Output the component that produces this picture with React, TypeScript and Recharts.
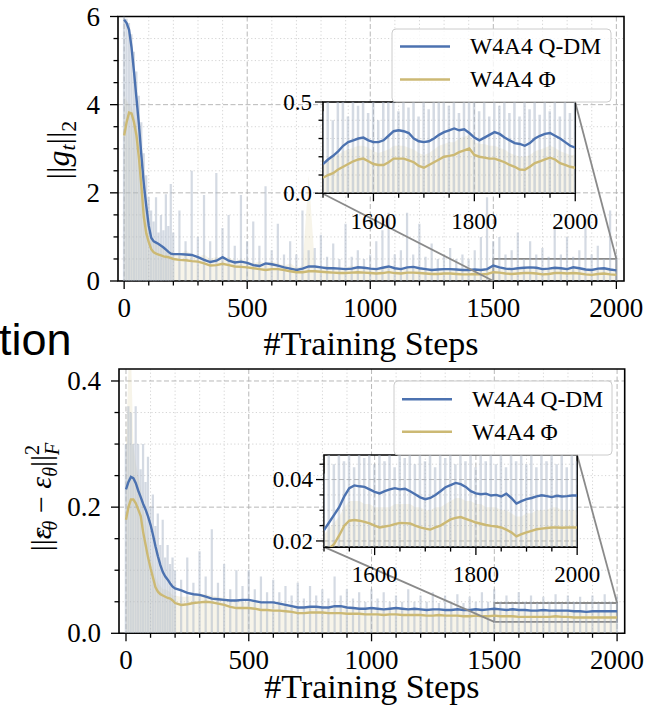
import React from 'react';
import { ComposedChart, Line, Area, Bar, XAxis, YAxis, CartesianGrid, ReferenceArea, ReferenceLine } from 'recharts';

const BLUE = '#4C72B0';
const YELLOW = '#CCB974';
const RAW = '#a9b6c8';
const SERIF = '"Liberation Serif", "Times New Roman", serif';
const SANS = '"Liberation Sans", Arial, sans-serif';

const seriesNames = ['W4A4 Q-DM', 'W4A4 \u03A6'];
const xLabelText = '#Training Steps';
const cutText = 'tion';

// ---------- categories ----------
const earlySteps = [0, 10, 20, 30, 40, 50, 60, 70, 80, 90, 100, 110, 120, 130, 140, 150, 160, 170, 180, 190];
const midSteps = [
  200, 225, 250, 275, 300, 325, 350, 375, 400, 425,
  450, 475, 500, 525, 550, 575, 600, 625, 650, 675,
  700, 725, 750, 775, 800, 825, 850, 875, 900, 925,
  950, 975, 1000, 1025, 1050, 1075, 1100, 1125, 1150, 1175,
  1200, 1225, 1250, 1275, 1300, 1325, 1350, 1375, 1400, 1425,
  1450, 1475, 1500, 1525, 1550, 1575, 1600, 1625, 1650, 1675,
  1700, 1725, 1750, 1775, 1800, 1825, 1850, 1875, 1900, 1925,
  1950, 1975, 2000,
];
const mainSteps = [...earlySteps, ...midSteps];
const insetSteps = [
  1500, 1510, 1520, 1530, 1540, 1550, 1560, 1570, 1580, 1590,
  1600, 1610, 1620, 1630, 1640, 1650, 1660, 1670, 1680, 1690,
  1700, 1710, 1720, 1730, 1740, 1750, 1760, 1770, 1780, 1790,
  1800, 1810, 1820, 1830, 1840, 1850, 1860, 1870, 1880, 1890,
  1900, 1910, 1920, 1930, 1940, 1950, 1960, 1970, 1980, 1990,
  2000,
];

// ---------- top panel: ||g_t||_2 ----------
const topQdm = [
  5.93, 5.85, 5.7, 5.3, 4.75, 4.15, 3.55, 2.85, 2.2, 1.7,
  1.25, 0.98, 0.9, 0.87, 0.84, 0.8, 0.76, 0.71, 0.66, 0.62,
  0.61, 0.61, 0.6, 0.59, 0.54, 0.48, 0.43, 0.46, 0.54, 0.46,
  0.42, 0.44, 0.41, 0.36, 0.34, 0.4, 0.38, 0.35, 0.31, 0.28,
  0.25, 0.28, 0.33, 0.33, 0.31, 0.29, 0.29, 0.28, 0.27, 0.28,
  0.31, 0.3, 0.28, 0.27, 0.3, 0.33, 0.29, 0.27, 0.31, 0.32,
  0.29, 0.27, 0.25, 0.26, 0.27, 0.27, 0.26, 0.25, 0.25, 0.26,
  0.25, 0.27, 0.35, 0.31, 0.28, 0.27, 0.29, 0.3, 0.31, 0.3,
  0.27, 0.28, 0.3, 0.29, 0.27, 0.31, 0.29, 0.26, 0.25, 0.28,
  0.29, 0.26, 0.24,
];
const topPhi = [
  3.3, 3.6, 3.82, 3.8, 3.6, 3.3, 2.8, 2.15, 1.45, 1.08,
  0.88, 0.72, 0.65, 0.62, 0.6, 0.58, 0.56, 0.55, 0.54, 0.52,
  0.5, 0.48, 0.47, 0.45, 0.44, 0.4, 0.35, 0.36, 0.39, 0.36,
  0.33, 0.32, 0.31, 0.29, 0.27, 0.25, 0.27, 0.27, 0.25, 0.22,
  0.2, 0.2, 0.22, 0.22, 0.21, 0.2, 0.19, 0.18, 0.18, 0.19,
  0.2, 0.19, 0.18, 0.17, 0.18, 0.2, 0.18, 0.17, 0.19, 0.19,
  0.18, 0.17, 0.16, 0.16, 0.17, 0.17, 0.16, 0.15, 0.15, 0.16,
  0.15, 0.16, 0.2, 0.19, 0.17, 0.16, 0.17, 0.18, 0.18, 0.17,
  0.15, 0.16, 0.18, 0.18, 0.17, 0.18, 0.17, 0.15, 0.14, 0.16,
  0.17, 0.15, 0.14,
];
const topRawQdm = [
  6.0, 5.95, 5.85, 5.6, 5.2, 4.75, 4.2, 3.6, 2.9, 2.4,
  1.9, 1.6, 1.35, 1.9, 1.1, 1.5, 1.15, 1.97, 1.25, 2.2,
  1.1, 1.6, 0.9, 2.5, 1.0, 1.95, 0.9, 2.45, 1.2, 1.5,
  0.8, 1.95, 0.9, 1.35, 0.8, 2.15, 0.7, 1.3, 0.6, 0.9,
  0.6, 1.6, 0.7, 0.75, 1.05, 0.55, 0.85, 0.5, 1.3, 0.55,
  0.7, 0.5, 0.6, 0.9, 1.15, 1.55, 0.6, 0.7, 1.55, 0.6,
  1.3, 0.55, 0.85, 0.5, 0.6, 0.75, 0.5, 0.6, 0.5, 0.7,
  1.0, 1.9, 0.9, 1.0, 0.6, 0.7, 1.1, 0.5, 0.9, 0.6,
  0.75, 0.55, 1.25, 0.6, 1.0, 0.55, 0.7, 1.4, 0.6, 0.8,
  0.5, 1.6, 0.6,
];
const topRawPhi = [
  4.2, 4.1, 4.0, 3.95, 3.8, 3.6, 3.2, 2.6, 2.0, 1.5,
  1.2, 1.0, 0.9, 0.85, 0.8, 0.75, 0.75, 0.7, 0.7, 0.65,
  0.65, 0.6, 0.7, 0.6, 0.55, 0.6, 0.5, 0.55, 0.5, 0.55,
  0.45, 0.5, 0.45, 0.4, 0.45, 0.4, 0.45, 0.4, 0.35, 0.4,
  0.3, 0.35, 2.4, 0.35, 0.3, 0.35, 0.3, 0.3, 0.3, 0.35,
  0.3, 0.3, 0.3, 0.28, 0.3, 0.32, 0.28, 0.3, 0.3, 0.28,
  0.3, 0.28, 0.26, 0.28, 0.27, 0.28, 0.26, 0.25, 0.26, 0.27,
  0.25, 0.28, 0.3, 0.28, 0.27, 0.26, 0.28, 0.28, 0.28, 0.27,
  0.25, 0.27, 0.28, 0.28, 0.27, 0.28, 0.27, 0.25, 0.24, 0.26,
  0.27, 0.25, 0.24,
];
const topInsetQdm = [
  0.16, 0.185, 0.205, 0.23, 0.26, 0.28, 0.29, 0.3, 0.305, 0.29,
  0.28, 0.28, 0.29, 0.315, 0.34, 0.345, 0.34, 0.33, 0.3, 0.285,
  0.28, 0.285, 0.3, 0.32, 0.335, 0.345, 0.355, 0.345, 0.35, 0.33,
  0.305, 0.29, 0.305, 0.32, 0.335, 0.325, 0.305, 0.29, 0.275, 0.27,
  0.26, 0.275, 0.3, 0.315, 0.325, 0.33, 0.315, 0.3, 0.28, 0.26,
  0.25,
];
const topInsetPhi = [
  0.085, 0.1, 0.11, 0.13, 0.145, 0.16, 0.175, 0.185, 0.19, 0.175,
  0.16, 0.155, 0.155, 0.17, 0.19, 0.19, 0.19, 0.18, 0.17, 0.15,
  0.14, 0.155, 0.17, 0.185, 0.2, 0.205, 0.21, 0.225, 0.235, 0.245,
  0.21, 0.2, 0.195, 0.19, 0.19, 0.18, 0.17, 0.155, 0.145, 0.13,
  0.128, 0.145, 0.165, 0.175, 0.185, 0.195, 0.185, 0.165, 0.155, 0.145,
  0.14,
];
const topInsetRawQdm = [
  0.45, 0.62, 0.4, 0.55, 0.7, 0.42, 0.6, 0.48, 0.75, 0.44,
  0.58, 0.4, 0.66, 0.5, 0.8, 0.45, 0.6, 0.47, 0.72, 0.42,
  0.55, 0.46, 0.68, 0.5, 0.85, 0.48, 0.62, 0.44, 0.7, 0.5,
  0.58, 0.45, 0.66, 0.42, 0.6, 0.48, 0.74, 0.44, 0.55, 0.42,
  0.64, 0.46, 0.7, 0.43, 0.58, 0.45, 0.8, 0.42, 0.6, 0.44,
  0.52,
];
const topInsetRawPhi = [
  0.16, 0.18, 0.2, 0.21, 0.23, 0.24, 0.25, 0.26, 0.26, 0.25,
  0.23, 0.22, 0.23, 0.24, 0.26, 0.26, 0.26, 0.25, 0.24, 0.22,
  0.21, 0.22, 0.24, 0.26, 0.27, 0.28, 0.28, 0.3, 0.31, 0.32,
  0.28, 0.27, 0.27, 0.26, 0.26, 0.25, 0.24, 0.22, 0.21, 0.2,
  0.2, 0.21, 0.23, 0.24, 0.25, 0.26, 0.25, 0.23, 0.22, 0.21,
  0.21,
];

// ---------- bottom panel: ||eps_hat - eps||_F^2 ----------
const botQdm = [
  0.228, 0.24, 0.248, 0.246, 0.238, 0.226, 0.216, 0.205, 0.196, 0.185,
  0.172, 0.156, 0.138, 0.122, 0.108, 0.097, 0.09, 0.085, 0.079, 0.074,
  0.071, 0.068, 0.064, 0.062, 0.061, 0.058, 0.055, 0.054, 0.053, 0.052,
  0.052, 0.053, 0.053, 0.051, 0.049, 0.049, 0.049, 0.047, 0.045, 0.043,
  0.041, 0.041, 0.042, 0.042, 0.041, 0.041, 0.043, 0.043, 0.041, 0.04,
  0.039, 0.039, 0.04, 0.039, 0.038, 0.039, 0.04, 0.039, 0.038, 0.039,
  0.038, 0.037, 0.038, 0.038, 0.037, 0.037, 0.038, 0.037, 0.037, 0.038,
  0.037, 0.038, 0.039, 0.038, 0.037, 0.038, 0.037, 0.037, 0.036, 0.036,
  0.037, 0.036, 0.036, 0.036, 0.036, 0.035, 0.035, 0.034, 0.035, 0.035,
  0.035, 0.035, 0.035,
];
const botPhi = [
  0.18, 0.2, 0.212, 0.212, 0.206, 0.196, 0.186, 0.16, 0.14, 0.12,
  0.103, 0.088, 0.073, 0.066, 0.062, 0.06, 0.058, 0.056, 0.055, 0.052,
  0.048, 0.045, 0.046, 0.048, 0.049, 0.05, 0.049, 0.047, 0.045, 0.042,
  0.04, 0.04, 0.04, 0.039, 0.037, 0.037, 0.036, 0.036, 0.035, 0.034,
  0.032, 0.032, 0.033, 0.033, 0.033, 0.032, 0.032, 0.032, 0.031, 0.031,
  0.031, 0.03, 0.03, 0.03, 0.029, 0.03, 0.03, 0.029, 0.029, 0.029,
  0.029, 0.028, 0.028, 0.029, 0.028, 0.028, 0.028, 0.027, 0.027, 0.028,
  0.027, 0.027, 0.028, 0.027, 0.027, 0.027, 0.026, 0.026, 0.026, 0.026,
  0.026, 0.026, 0.027, 0.026, 0.026, 0.025, 0.025, 0.025, 0.025, 0.025,
  0.025, 0.025, 0.025,
];
const botRawQdm = [
  0.3, 0.36, 0.35, 0.3, 0.36, 0.3, 0.26, 0.3, 0.24, 0.28,
  0.2, 0.22, 0.17, 0.19, 0.14, 0.18, 0.12, 0.14, 0.11, 0.12,
  0.1, 0.085, 0.12, 0.08, 0.13, 0.09, 0.165, 0.08, 0.11, 0.07,
  0.1, 0.075, 0.1, 0.07, 0.09, 0.065, 0.085, 0.065, 0.075, 0.06,
  0.08, 0.055, 0.075, 0.06, 0.07, 0.055, 0.09, 0.06, 0.07, 0.055,
  0.065, 0.05, 0.07, 0.055, 0.065, 0.05, 0.06, 0.05, 0.07, 0.05,
  0.06, 0.05, 0.065, 0.048, 0.06, 0.05, 0.062, 0.048, 0.058, 0.05,
  0.065, 0.05, 0.07, 0.05, 0.06, 0.048, 0.065, 0.05, 0.06, 0.048,
  0.058, 0.05, 0.062, 0.048, 0.06, 0.05, 0.058, 0.047, 0.06, 0.048,
  0.062, 0.05, 0.058,
];
const botRawPhi = [
  0.3, 0.42, 0.45, 0.3, 0.27, 0.25, 0.23, 0.2, 0.18, 0.16,
  0.13, 0.11, 0.09, 0.08, 0.075, 0.07, 0.07, 0.068, 0.065, 0.06,
  0.06, 0.058, 0.058, 0.06, 0.062, 0.062, 0.06, 0.058, 0.056, 0.053,
  0.05, 0.05, 0.05, 0.049, 0.047, 0.047, 0.046, 0.046, 0.045, 0.044,
  0.042, 0.042, 0.043, 0.043, 0.043, 0.042, 0.042, 0.042, 0.041, 0.041,
  0.041, 0.04, 0.04, 0.04, 0.039, 0.04, 0.04, 0.039, 0.039, 0.039,
  0.039, 0.038, 0.038, 0.039, 0.038, 0.038, 0.038, 0.037, 0.037, 0.038,
  0.037, 0.037, 0.038, 0.037, 0.037, 0.037, 0.036, 0.036, 0.036, 0.036,
  0.036, 0.036, 0.037, 0.036, 0.036, 0.035, 0.035, 0.035, 0.035, 0.035,
  0.035, 0.035, 0.035,
];
const botInsetQdm = [
  0.0235, 0.026, 0.0285, 0.031, 0.0345, 0.0372, 0.0381, 0.0378, 0.0376, 0.0368,
  0.036, 0.0355, 0.0362, 0.0368, 0.0372, 0.0368, 0.037, 0.0362, 0.0352, 0.0342,
  0.0336, 0.034, 0.035, 0.0362, 0.0375, 0.0382, 0.0389, 0.0385, 0.0376, 0.0362,
  0.0355, 0.0352, 0.0354, 0.0348, 0.035, 0.0345, 0.0354, 0.034, 0.0322, 0.033,
  0.0336, 0.034, 0.0345, 0.0349, 0.0346, 0.0343, 0.0347, 0.0345, 0.0346, 0.0348,
  0.0348,
];
const botInsetPhi = [
  0.0165, 0.0175, 0.019, 0.0218, 0.025, 0.0266, 0.0268, 0.0266, 0.0262, 0.0257,
  0.025, 0.0244, 0.0247, 0.025, 0.0255, 0.0259, 0.0258, 0.0257, 0.025, 0.0244,
  0.024, 0.0237, 0.0244, 0.025, 0.026, 0.027, 0.0275, 0.0278, 0.0272, 0.0266,
  0.026, 0.0256, 0.0252, 0.0249, 0.0247, 0.0244, 0.0237, 0.0228, 0.0215, 0.0222,
  0.0228, 0.0233, 0.0238, 0.024, 0.0242, 0.0244, 0.0244, 0.0243, 0.0244, 0.0244,
  0.0244,
];
const botInsetRawQdm = [
  0.042, 0.05, 0.045, 0.055, 0.046, 0.052, 0.044, 0.058, 0.047, 0.05,
  0.045, 0.056, 0.046, 0.052, 0.044, 0.055, 0.047, 0.05, 0.045, 0.054,
  0.046, 0.051, 0.044, 0.057, 0.047, 0.052, 0.045, 0.055, 0.046, 0.05,
  0.044, 0.053, 0.046, 0.051, 0.045, 0.056, 0.044, 0.05, 0.046, 0.054,
  0.045, 0.052, 0.044, 0.055, 0.046, 0.05, 0.045, 0.053, 0.044, 0.051,
  0.046,
];
const botInsetRawPhi = [
  0.022, 0.024, 0.026, 0.028, 0.031, 0.033, 0.033, 0.033, 0.032, 0.032,
  0.031, 0.031, 0.031, 0.031, 0.032, 0.032, 0.032, 0.032, 0.031, 0.031,
  0.03, 0.03, 0.031, 0.031, 0.032, 0.033, 0.034, 0.034, 0.033, 0.033,
  0.032, 0.032, 0.031, 0.031, 0.031, 0.03, 0.03, 0.029, 0.028, 0.028,
  0.029, 0.029, 0.03, 0.03, 0.03, 0.031, 0.031, 0.03, 0.03, 0.03,
  0.03,
];

// ---------- ticks ----------
const mainXMajor = [0, 500, 1000, 1500, 2000];
const mainXLabels = ['0', '500', '1000', '1500', '2000'];
const mainXMinor = [100, 200, 300, 400, 600, 700, 800, 900, 1100, 1200, 1300, 1400, 1600, 1700, 1800, 1900];
const topYMajor = [0, 2, 4, 6];
const topYLabels = ['0', '2', '4', '6'];
const topYMinor = [0.5, 1, 1.5, 2.5, 3, 3.5, 4.5, 5, 5.5];
const botYMajor = [0, 0.2, 0.4];
const botYLabels = ['0.0', '0.2', '0.4'];
const botYMinor = [0.05, 0.1, 0.15, 0.25, 0.3, 0.35];
const insetXMajor = [1600, 1800, 2000];
const insetXLabels = ['1600', '1800', '2000'];
const insetXMinor = [1500, 1550, 1650, 1700, 1750, 1850, 1900, 1950];
const topInsetYMajor = [0, 0.5];
const topInsetYLabels = ['0.0', '0.5'];
const topInsetYMinor = [0.1, 0.2, 0.3, 0.4];
const botInsetYMajor = [0.02, 0.04];
const botInsetYLabels = ['0.02', '0.04'];
const botInsetYMinor = [0.025, 0.03, 0.035, 0.045];

type Row = { step: number; qdm: number; phi: number; rawQ: number; rawP: number };
const buildRows = (steps: number[], q: number[], p: number[], rq: number[], rp: number[]): Row[] =>
  steps.map((step, i) => ({ step, qdm: q[i], phi: p[i], rawQ: rq[i], rawP: rp[i] }));

const topRows = buildRows(mainSteps, topQdm, topPhi, topRawQdm, topRawPhi);
const topInsetRows = buildRows(insetSteps, topInsetQdm, topInsetPhi, topInsetRawQdm, topInsetRawPhi);
const botRows = buildRows(mainSteps, botQdm, botPhi, botRawQdm, botRawPhi);
const botInsetRows = buildRows(insetSteps, botInsetQdm, botInsetPhi, botInsetRawQdm, botInsetRawPhi);

const makeXTick = (majors: number[], labels: string[], fontSize: number, labelDy: number) => (p: any) => {
  const v = p.payload.value;
  const idx = majors.indexOf(v);
  const major = idx >= 0;
  return (
    <g>
      <line x1={p.x} x2={p.x} y1={p.y} y2={p.y + (major ? 8 : 4.5)} stroke="#000" strokeWidth={1.3} />
      {major && (
        <text x={p.x} y={p.y + labelDy} textAnchor="middle" fontFamily={SERIF} fontSize={fontSize} fill="#000">
          {labels[idx]}
        </text>
      )}
    </g>
  );
};

const makeYTick = (majors: number[], labels: string[], fontSize: number, gap: number) => (p: any) => {
  const v = p.payload.value;
  const idx = majors.indexOf(v);
  const major = idx >= 0;
  return (
    <g>
      <line x1={p.x} x2={p.x - (major ? 8 : 4.5)} y1={p.y} y2={p.y} stroke="#000" strokeWidth={1.3} />
      {major && (
        <text x={p.x - gap} y={p.y} dy="0.34em" textAnchor="end" fontFamily={SERIF} fontSize={fontSize} fill="#000">
          {labels[idx]}
        </text>
      )}
    </g>
  );
};

type Box = { left: number; top: number; right: number; bottom: number };

const grids = (xMinor: number[], xMajor: number[], yMinor: number[], yMajor: number[]) => [
  <CartesianGrid key="gmin" verticalValues={xMinor} horizontalValues={yMinor} stroke="#c9c9c9" strokeWidth={0.8} strokeDasharray="1.2 2.4" fill="#fff" fillOpacity={1} />,
  <CartesianGrid key="gmaj" verticalValues={xMajor} horizontalValues={yMajor} stroke="#b0b0b0" strokeWidth={0.9} strokeDasharray="5 2.5" />,
];

const seriesEls = (barSize: number) => [
  <Area key="rp" type="linear" dataKey="rawP" stroke="none" fill={YELLOW} fillOpacity={0.16} isAnimationActive={false} dot={false} activeDot={false} />,
  <Bar key="rq" dataKey="rawQ" fill={RAW} fillOpacity={0.5} barSize={barSize} isAnimationActive={false} />,
  <Line key="lq" type="linear" dataKey="qdm" name={seriesNames[0]} stroke={BLUE} strokeWidth={2.4} dot={false} activeDot={false} isAnimationActive={false} />,
  <Line key="lp" type="linear" dataKey="phi" name={seriesNames[1]} stroke={YELLOW} strokeWidth={2.4} dot={false} activeDot={false} isAnimationActive={false} />,
];

type PanelCfg = {
  top: number;
  height: number;
  plot: Box;
  xDomain: [number, number];
  yDomain: [number, number];
  rows: Row[];
  yMajor: number[];
  yMinor: number[];
  yLabels: string[];
  zoom: { y1: number; y2: number };
  insetBox: { x1: number; x2: number; y1: number; y2: number };
  insetRows: Row[];
  insetYDomain: [number, number];
  insetYMajor: number[];
  insetYMinor: number[];
  insetYLabels: string[];
  insetLabelDy: number;
  legend: { left: number; top: number; w: number; h: number; rowY: number[] };
  xLabelY: number;
  yLabel: React.ReactNode;
};

function Panel({ cfg }: { cfg: PanelCfg }) {
  const { plot, xDomain, yDomain } = cfg;
  const W = 666;
  const toPx = (x: number) => plot.left + ((x - xDomain[0]) / (xDomain[1] - xDomain[0])) * (plot.right - plot.left);
  const toPy = (y: number) => plot.bottom - ((y - yDomain[0]) / (yDomain[1] - yDomain[0])) * (plot.bottom - plot.top);
  const ib = cfg.insetBox;
  const iLeft = toPx(ib.x1);
  const iRight = toPx(ib.x2);
  const iTop = toPy(ib.y2);
  const iBottom = toPy(ib.y1);
  const iW = iRight - iLeft;
  const iH = iBottom - iTop;
  const iMT = 16;
  const insetChartW = iW + 60 + 30;
  const insetChartH = iH + iMT + 15 + 30;
  const lg = cfg.legend;
  const colors = [BLUE, YELLOW];
  return (
    <div style={{ position: 'absolute', left: 0, top: cfg.top, width: W, height: cfg.height }}>
      <ComposedChart
        width={W}
        height={cfg.height}
        data={cfg.rows}
        margin={{ top: plot.top, right: W - plot.right, bottom: cfg.height - plot.bottom - 30, left: plot.left - 60 }}
      >
        {grids(mainXMinor, mainXMajor, cfg.yMinor, cfg.yMajor)}
        <XAxis
          type="number"
          dataKey="step"
          domain={xDomain}
          allowDataOverflow
          ticks={[...mainXMajor, ...mainXMinor]}
          interval={0}
          tickSize={0}
          tickMargin={0}
          axisLine={false}
          tickLine={false}
          height={30}
          tick={makeXTick(mainXMajor, mainXLabels, 27, 36)}
        />
        <YAxis
          type="number"
          domain={yDomain}
          allowDataOverflow
          ticks={[...cfg.yMajor, ...cfg.yMinor]}
          interval={0}
          tickSize={0}
          tickMargin={0}
          axisLine={false}
          tickLine={false}
          width={60}
          tick={makeYTick(cfg.yMajor, cfg.yLabels, 27, 18)}
        />
        {seriesEls(2.5)}
        <ReferenceArea x1={1500} x2={2000} y1={cfg.zoom.y1} y2={cfg.zoom.y2} fill="none" stroke="#8a8a8a" strokeWidth={1.8} ifOverflow="visible" />
        <ReferenceLine segment={[{ x: 1500, y: cfg.zoom.y1 }, { x: ib.x1, y: ib.y1 }]} stroke="#8a8a8a" strokeWidth={1.8} ifOverflow="visible" />
        <ReferenceLine segment={[{ x: 2000, y: cfg.zoom.y2 }, { x: ib.x2, y: ib.y2 }]} stroke="#8a8a8a" strokeWidth={1.8} ifOverflow="visible" />
        <ReferenceArea x1={xDomain[0]} x2={xDomain[1]} y1={yDomain[0]} y2={yDomain[1]} fill="none" stroke="#000" strokeWidth={1.6} ifOverflow="visible" />
      </ComposedChart>

      <div style={{ position: 'absolute', left: iLeft - 60, top: iTop - iMT, width: insetChartW, height: insetChartH }}>
        <ComposedChart width={insetChartW} height={insetChartH} data={cfg.insetRows} margin={{ top: iMT, right: 30, bottom: 15, left: 0 }}>
          {grids(insetXMinor, insetXMajor, cfg.insetYMinor, cfg.insetYMajor)}
          <XAxis
            type="number"
            dataKey="step"
            domain={[1500, 2000]}
            allowDataOverflow
            ticks={[...insetXMajor, ...insetXMinor]}
            interval={0}
            tickSize={0}
            tickMargin={0}
            axisLine={false}
            tickLine={false}
            height={30}
            tick={makeXTick(insetXMajor, insetXLabels, 23, cfg.insetLabelDy)}
          />
          <YAxis
            type="number"
            domain={cfg.insetYDomain}
            allowDataOverflow
            ticks={[...cfg.insetYMajor, ...cfg.insetYMinor]}
            interval={0}
            tickSize={0}
            tickMargin={0}
            axisLine={false}
            tickLine={false}
            width={60}
            tick={makeYTick(cfg.insetYMajor, cfg.insetYLabels, 23, 11)}
          />
          {seriesEls(2.5)}
          <ReferenceArea x1={1500} x2={2000} y1={cfg.insetYDomain[0]} y2={cfg.insetYDomain[1]} fill="none" stroke="#000" strokeWidth={1.6} ifOverflow="visible" />
        </ComposedChart>
      </div>

      <svg width={W} height={cfg.height} style={{ position: 'absolute', left: 0, top: 0, pointerEvents: 'none', overflow: 'visible' }}>
        <text x={(plot.left + plot.right) / 2} y={cfg.xLabelY} textAnchor="middle" fontFamily={SERIF} fontSize={34} fill="#000">
          {xLabelText}
        </text>
        {cfg.yLabel}
        <rect x={lg.left} y={lg.top} width={lg.w} height={lg.h} rx={4} fill="#fff" fillOpacity={0.8} stroke="#cccccc" strokeWidth={1} />
        {seriesNames.map((n, i) => (
          <g key={n}>
            <line x1={lg.left + 8} x2={lg.left + 58} y1={lg.rowY[i]} y2={lg.rowY[i]} stroke={colors[i]} strokeWidth={2.4} />
            <text x={lg.left + 78} y={lg.rowY[i]} dy="0.34em" fontFamily={SERIF} fontSize={23.5} fill="#000">
              {n}
            </text>
          </g>
        ))}
      </svg>
    </div>
  );
}

const topYLabel = (
  <text transform="translate(69,150) rotate(-90)" textAnchor="middle" fontFamily={SERIF} fontSize={32} fill="#000">
    <tspan>||</tspan>
    <tspan fontStyle="italic">g</tspan>
    <tspan fontStyle="italic" fontSize={22} dy={6}>t</tspan>
    <tspan dy={-6}>||</tspan>
    <tspan fontSize={22} dy={7}>2</tspan>
  </text>
);

const botYLabel = (
  <text transform="translate(51,157) rotate(-90)" textAnchor="middle" fontFamily={SERIF} fontSize={30} fill="#000">
    <tspan>||</tspan>
    <tspan fontStyle="italic">{'\u03B5'}</tspan>
    <tspan fontSize={24} dx={-11} dy={3}>{'\u02C6'}</tspan>
    <tspan fontStyle="italic" fontSize={20} dy={3}>{'\u03B8'}</tspan>
    <tspan dy={-6}>{' \u2212 '}</tspan>
    <tspan fontStyle="italic">{'\u03B5'}</tspan>
    <tspan fontStyle="italic" fontSize={20} dy={6}>{'\u03B8'}</tspan>
    <tspan dy={-6}>||</tspan>
    <tspan fontSize={20} dy={-12}>2</tspan>
    <tspan fontStyle="italic" fontSize={20} dx={-10} dy={20}>F</tspan>
  </text>
);

const topCfg: PanelCfg = {
  top: 0,
  height: 370,
  plot: { left: 118, top: 16.5, right: 624, bottom: 281 },
  xDomain: [-25, 2031],
  yDomain: [0, 6],
  rows: topRows,
  yMajor: topYMajor,
  yMinor: topYMinor,
  yLabels: topYLabels,
  zoom: { y1: 0, y2: 0.5 },
  insetBox: { x1: 808, x2: 1833, y1: 1.98, y2: 4.05 },
  insetRows: topInsetRows,
  insetYDomain: [0, 0.5],
  insetYMajor: topInsetYMajor,
  insetYMinor: topInsetYMinor,
  insetYLabels: topInsetYLabels,
  insetLabelDy: 36,
  legend: { left: 392, top: 29, w: 219, h: 73, rowY: [46.5, 79.5] },
  xLabelY: 355,
  yLabel: topYLabel,
};

const botCfg: PanelCfg = {
  top: 340,
  height: 374,
  plot: { left: 119, top: 29, right: 624.7, bottom: 293.3 },
  xDomain: [-28.5, 2031],
  yDomain: [0, 0.419],
  rows: botRows,
  yMajor: botYMajor,
  yMinor: botYMinor,
  yLabels: botYLabels,
  zoom: { y1: 0.018, y2: 0.048 },
  insetBox: { x1: 806, x2: 1837, y1: 0.137, y2: 0.283 },
  insetRows: botInsetRows,
  insetYDomain: [0.018, 0.048],
  insetYMajor: botInsetYMajor,
  insetYMinor: botInsetYMinor,
  insetYLabels: botInsetYLabels,
  insetLabelDy: 35,
  legend: { left: 394, top: 41, w: 218, h: 74, rowY: [59.3, 91.7] },
  xLabelY: 358,
  yLabel: botYLabel,
};

export default function App() {
  return (
    <div style={{ position: 'absolute', left: 0, top: 0, width: 666, height: 714, background: '#fff', overflow: 'hidden' }}>
      <Panel cfg={topCfg} />
      <Panel cfg={botCfg} />
      <svg width={666} height={714} style={{ position: 'absolute', left: 0, top: 0, pointerEvents: 'none' }}>
        <text x={-1} y={355} fontFamily={SANS} fontSize={45} fill="#000">
          {cutText}
        </text>
      </svg>
    </div>
  );
}
